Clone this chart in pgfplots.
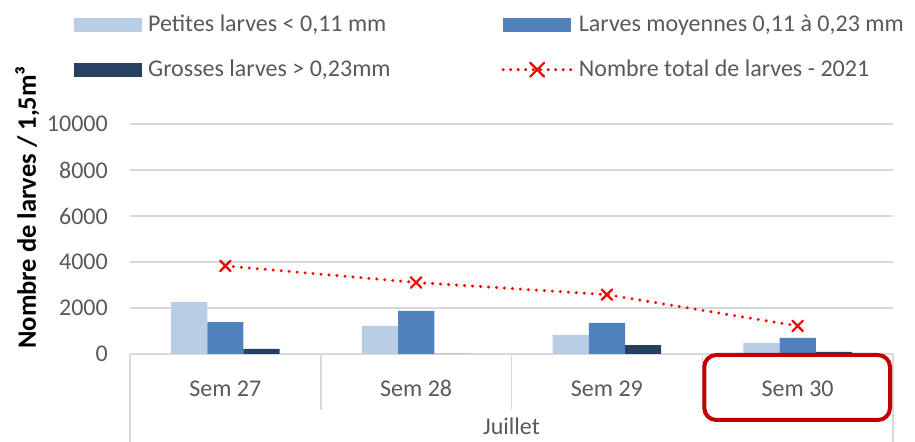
\documentclass[border=0pt]{standalone}
\usepackage{pgfplots}
\pgfplotsset{compat=1.18}
\usepackage{fontspec}
\setmainfont{Carlito}
\definecolor{light}{HTML}{B9CDE5}
\definecolor{mid}{HTML}{4F81BD}
\definecolor{dark}{HTML}{254061}
\definecolor{txt}{HTML}{595959}
\definecolor{gridc}{HTML}{D9D9D9}
\definecolor{boxred}{HTML}{C00000}
\begin{document}
\begin{tikzpicture}[x=1bp,y=1bp]
\useasboundingbox (0,0) rectangle (915,442);
\fontsize{24bp}{28bp}\selectfont
\begin{axis}[
  at={(130bp,88bp)}, anchor=south west,
  scale only axis, width=763bp, height=230bp,
  ybar=0pt, bar width=0.19,
  xmin=-0.5, xmax=3.5, ymin=0, ymax=10000,
  xtick={0,1,2,3}, xticklabels={Sem 27,Sem 28,Sem 29,Sem 30},
  xtick style={draw=none}, ytick style={draw=none},
  ytick={0,2000,4000,6000,8000,10000},
  scaled y ticks=false,
  ymajorgrids, grid style={gridc, line width=1.5bp},
  axis x line*=bottom, axis y line*=left,
  x axis line style={gridc, line width=1.5bp, -},
  y axis line style={draw=none},
  /pgf/number format/1000 sep={},
  /pgf/number format/assume math mode=true,
  tick label style={font=\fontsize{24bp}{28bp}\selectfont, text=txt},
  xticklabel style={anchor=base, yshift=-38bp},
  yticklabel style={anchor=east, xshift=-14bp},
  clip=false,
  ylabel={\bfseries Nombre de larves / 1,5m³},
  every axis y label/.style={at={(axis description cs:-0.1232,0.637)}, rotate=90, anchor=base, font=\fontsize{26.5bp}{30bp}\selectfont},
  legend columns=2,
  legend style={at={(axis description cs:-0.0735,1.0)}, anchor=south west, yshift=42bp, draw=none, fill=none,
    font=\fontsize{24bp}{28bp}\selectfont, text=txt,
    /tikz/every even column/.append style={column sep=109bp},
    /tikz/every odd column/.append style={column sep=4bp},
    row sep=20bp, inner sep=0pt},
  legend cell align=left,
]
\addplot[fill=light, draw=none, legend image code/.code={\fill[light] (0bp,-7bp) rectangle (68bp,7bp);}] coordinates {(0,2260) (1,1220) (2,830) (3,480)};
\addplot[fill=mid, draw=none, legend image code/.code={\fill[mid] (0bp,-7bp) rectangle (68bp,7bp);}] coordinates {(0,1390) (1,1870) (2,1350) (3,700)};
\addplot[fill=dark, draw=none, legend image code/.code={\fill[dark] (0bp,-7bp) rectangle (68bp,7bp);}] coordinates {(0,220) (1,0) (2,390) (3,90)};
\addplot[sharp plot, red, line width=3.3bp, line cap=round, dash pattern=on 0bp off 8bp,
  mark=x, mark size=7.5bp, mark options={solid, line width=2.2bp, red},
  legend image code/.code={\draw[red, line width=3.3bp, line cap=round, dash pattern=on 0bp off 7.5bp] (0bp,0bp) -- (68bp,0bp); \draw[red, solid, line width=2.2bp] (27bp,-7bp) -- (41bp,7bp) (27bp,7bp) -- (41bp,-7bp);}]
  coordinates {(0,3830) (1,3110) (2,2580) (3,1220)};
\legend{{Petites larves < 0,11 mm}, {Larves moyennes 0,11 à 0,23 mm}, {Grosses larves > 0,23mm}, {Nombre total de larves - 2021}}
% category table lines
\draw[gridc, line width=1.5bp] (axis cs:-0.5,0) -- ([yshift=-88bp]axis cs:-0.5,0);
\draw[gridc, line width=1.5bp] (axis cs:3.5,0) -- ([yshift=-88bp]axis cs:3.5,0);
\draw[gridc, line width=1.5bp] (axis cs:0.5,0) -- ([yshift=-56bp]axis cs:0.5,0);
\draw[gridc, line width=1.5bp] (axis cs:1.5,0) -- ([yshift=-56bp]axis cs:1.5,0);
\draw[gridc, line width=1.5bp] (axis cs:2.5,0) -- ([yshift=-56bp]axis cs:2.5,0);
\node[text=txt, anchor=base, font=\fontsize{24bp}{28bp}\selectfont] at ([yshift=-81bp]axis cs:1.5,0) {Juillet};
\draw[boxred, line width=4bp, rounded corners=12bp] ([xshift=2bp,yshift=-1bp]axis cs:2.5,0) rectangle ([xshift=-3bp,yshift=-66bp]axis cs:3.5,0);
\end{axis}
\end{tikzpicture}
\end{document}
